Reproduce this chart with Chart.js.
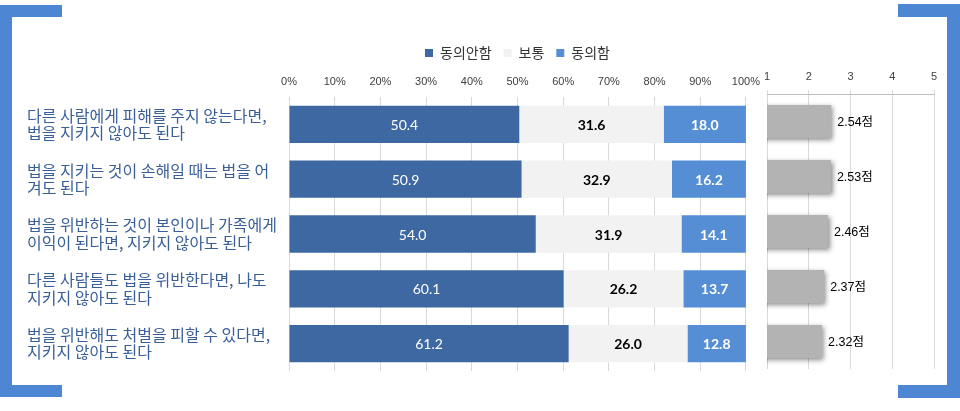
<!DOCTYPE html>
<html><head><meta charset="utf-8">
<script src="https://cdn.jsdelivr.net/npm/chart.js@4.4.1/dist/chart.umd.min.js"></script>
<style>
html,body{margin:0;padding:0;background:#fff;width:960px;height:411px;overflow:hidden}
body{position:relative}
#c1{position:absolute;left:0;top:0;width:768px;height:411px}
#c2{position:absolute;left:755px;top:0;width:205px;height:411px}
.br{position:absolute;background:#4d86d2}
</style></head><body>
<canvas id="c1" width="768" height="411"></canvas>
<canvas id="c2" width="205" height="411"></canvas>
<div class="br" style="left:0;top:5px;width:62px;height:12px"></div>
<div class="br" style="left:0;top:5px;width:12px;height:392px"></div>
<div class="br" style="left:0;top:385px;width:62px;height:12px"></div>
<div class="br" style="left:898px;top:4px;width:62px;height:13px"></div>
<div class="br" style="left:947px;top:4px;width:13px;height:394px"></div>
<div class="br" style="left:898px;top:385px;width:62px;height:13px"></div>
<script>
// ---- data ----
const categories = [
  ["다른 사람에게 피해를 주지 않는다면,", "법을 지키지 않아도 된다"],
  ["법을 지키는 것이 손해일 때는 법을 어", "겨도 된다"],
  ["법을 위반하는 것이 본인이나 가족에게", "이익이 된다면, 지키지 않아도 된다"],
  ["다른 사람들도 법을 위반한다면, 나도", "지키지 않아도 된다"],
  ["법을 위반해도 처벌을 피할 수 있다면,", "지키지 않아도 된다"]
];
const seriesNames = ["동의안함", "보통", "동의함"];
const disagree = [50.4, 50.9, 54.0, 60.1, 61.2];
const neutral  = [31.6, 32.9, 31.9, 26.2, 26.0];
const agree    = [18.0, 16.2, 14.1, 13.7, 12.8];
const scores   = [2.54, 2.53, 2.46, 2.37, 2.32];
const scoreUnit = "점";

// ---- styles ----
const colors = ["#3d68a2", "#f2f2f2", "#558ed5"];
const labelStyles = [
  {color:"#ffffff", font:"14px Lato, 'Open Sans', sans-serif"},
  {color:"#000000", font:"bold 14px Lato, 'Open Sans', sans-serif"},
  {color:"#ffffff", font:"bold 14px Lato, 'Open Sans', sans-serif"}
];

const stackLabels = {
  id: 'stackLabels',
  afterDatasetsDraw(chart) {
    const ctx = chart.ctx;
    chart.data.datasets.forEach((ds, i) => {
      const meta = chart.getDatasetMeta(i);
      meta.data.forEach((bar, j) => {
        ctx.save();
        ctx.font = labelStyles[i].font;
        ctx.fillStyle = labelStyles[i].color;
        ctx.textAlign = 'center';
        ctx.textBaseline = 'middle';
        ctx.fillText(ds.data[j].toFixed(1), (bar.x + bar.base) / 2, bar.y + 1);
        ctx.restore();
      });
    });
  }
};

new Chart(document.getElementById('c1'), {
  type: 'bar',
  data: {
    labels: categories,
    datasets: [
      {label: seriesNames[0], data: disagree, backgroundColor: colors[0]},
      {label: seriesNames[1], data: neutral, backgroundColor: colors[1]},
      {label: seriesNames[2], data: agree, backgroundColor: colors[2]}
    ]
  },
  options: {
    indexAxis: 'y',
    responsive: false,
    animation: false,
    layout: {padding: {left: 27, right: 6, top: 34, bottom: 40}},
    datasets: {bar: {barPercentage: 0.68, categoryPercentage: 1}},
    scales: {
      x: {
        position: 'top', stacked: true, min: 0, max: 100,
        ticks: {stepSize: 10, callback: v => v + '%', color: '#404040', padding: 8,
                font: {size: 11, family: "'Liberation Sans', Arial, sans-serif"}},
        grid: {color: '#d9d9d9', drawTicks: false},
        border: {display: false},
        afterFit: s => { s.height = 27; }
      },
      y: {
        stacked: true,
        ticks: {crossAlign: 'far', color: '#3a5f98',
                font: {size: 16, family: "'Noto Sans CJK KR', sans-serif", lineHeight: 1.08}},
        grid: {display: false},
        border: {display: false},
        afterFit: s => { s.width = 262; }
      }
    },
    plugins: {
      legend: {
        position: 'top', fullSize: false,
        labels: {boxWidth: 8, boxHeight: 8, padding: 12, color: '#333333',
                 font: {size: 14, family: "'Noto Sans CJK KR', sans-serif"}}
      },
      tooltip: {enabled: false}
    }
  },
  plugins: [stackLabels]
});

const scoreBars = {
  id: 'scoreBars',
  beforeDatasetsDraw(chart) {
    const ctx = chart.ctx;
    ctx.save();
    ctx.shadowColor = 'rgba(0,0,0,0.45)';
    ctx.shadowBlur = 5;
    ctx.shadowOffsetX = 2;
    ctx.shadowOffsetY = 2;
  },
  afterDatasetsDraw(chart) {
    const ctx = chart.ctx;
    ctx.restore();
    const meta = chart.getDatasetMeta(0);
    meta.data.forEach((bar, j) => {
      ctx.save();
      ctx.font = "12.5px 'Liberation Sans', 'Noto Sans CJK KR', sans-serif";
      ctx.fillStyle = '#000';
      ctx.textAlign = 'left';
      ctx.textBaseline = 'middle';
      ctx.fillText(scores[j].toFixed(2) + scoreUnit, bar.x + 6, bar.y + 1);
      ctx.restore();
    });
  }
};

new Chart(document.getElementById('c2'), {
  type: 'bar',
  data: {
    labels: categories.map(c => c.join(' ')),
    datasets: [{data: scores, backgroundColor: '#b3b3b3'}]
  },
  options: {
    indexAxis: 'y',
    responsive: false,
    animation: false,
    layout: {padding: {left: 12, right: 26, top: 64, bottom: 42}},
    datasets: {bar: {barPercentage: 0.6, categoryPercentage: 1}},
    scales: {
      x: {
        position: 'top', min: 1, max: 5,
        ticks: {stepSize: 1, color: '#404040', padding: 6,
                font: {size: 11, family: "'Liberation Sans', Arial, sans-serif"}},
        grid: {color: '#d9d9d9', tickLength: 4},
        border: {display: true, color: '#bfbfbf'},
        afterFit: s => { s.height = 30; }
      },
      y: {display: false}
    },
    plugins: {legend: {display: false}, tooltip: {enabled: false}}
  },
  plugins: [scoreBars]
});
</script>
</body></html>
